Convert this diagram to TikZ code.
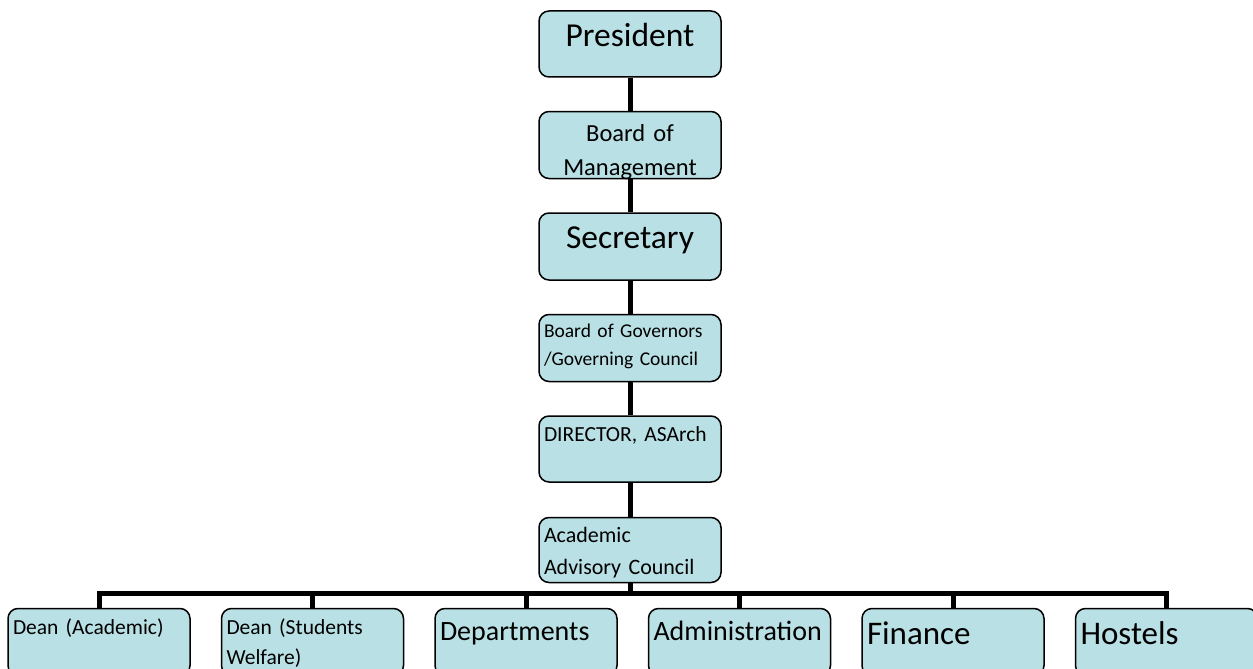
\documentclass[tikz,border=0pt]{standalone}
\usepackage{fontspec}
\setmainfont{Carlito}
\usetikzlibrary{positioning}
\definecolor{boxfill}{RGB}{185,224,228}

\begin{document}
\begin{tikzpicture}[
  x=1pt, y=-1pt,
  box/.style={draw, fill=boxfill, line width=1.5pt, rounded corners=10pt,
              inner xsep=5pt, inner ysep=0pt, text width=172pt, align=left},
  link/.style={line width=5pt},
  node distance=33pt and 30pt
]
  \useasboundingbox (0,0) rectangle (1253,669);
  \clip (0,0) rectangle (1253,669);

  % Chain of command
  \node[box, align=center, font=\fontsize{33.5}{40}\selectfont,
        text height=36pt, text depth=30pt] at (630,44) (pres) {President};
  \node[box, align=center, font=\fontsize{24.5}{34}\selectfont,
        text height=30pt, text depth=37pt, below=of pres] (bom) {Board of\\Management};
  \node[box, align=center, font=\fontsize{33.5}{40}\selectfont,
        text height=35pt, text depth=32pt, below=of bom] (sec) {Secretary};
  \node[box, font=\fontsize{19.5}{28}\selectfont,
        text height=23pt, text depth=44pt, below=of sec] (bog) {Board of Governors\\/Governing Council};
  \node[box, font=\fontsize{21.5}{26}\selectfont,
        text height=25pt, text depth=41pt, below=of bog] (dir) {DIRECTOR, ASArch};
  \node[box, font=\fontsize{22}{32}\selectfont,
        text height=25pt, text depth=40pt, below=34pt of dir] (aac) {Academic\\Advisory Council};

  % Units
  \node[box, font=\fontsize{21.5}{30}\selectfont,
        text height=26pt, text depth=41pt] at (99,642) (deanac) {Dean (Academic)};
  \node[box, font=\fontsize{21.5}{30}\selectfont,
        text height=26pt, text depth=41pt, right=of deanac] (deansw) {Dean (Students\\Welfare)};
  \node[box, font=\fontsize{28}{32}\selectfont,
        text height=32pt, text depth=35pt, right=of deansw] (dept) {Departments};
  \node[box, font=\fontsize{28}{32}\selectfont,
        text height=32pt, text depth=35pt, right=of dept] (admin) {Administration};
  \node[box, font=\fontsize{33}{38}\selectfont,
        text height=36pt, text depth=31pt, right=of admin] (fin) {Finance};
  \node[box, font=\fontsize{33}{38}\selectfont,
        text height=36pt, text depth=31pt, right=of fin] (hostels) {Hostels};

  % Links
  \draw[link] (pres) -- (bom) -- (sec) -- (bog) -- (dir) -- (aac);
  \coordinate (bus) at (630,593);
  \draw[link] (aac) -- (bus);
  \draw[link] (deanac.north) |- (bus) -| (hostels.north);
  \foreach \n in {deansw, dept, admin, fin}
    \draw[link] (\n.north) -- (\n.north |- bus);
\end{tikzpicture}
\end{document}
